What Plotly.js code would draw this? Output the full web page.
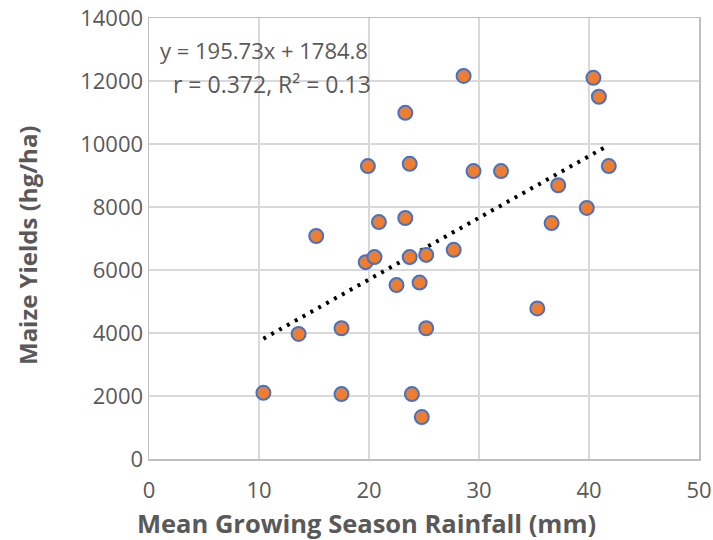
<!DOCTYPE html>
<html>
<head>
<meta charset="utf-8">
<script src="https://cdn.plot.ly/plotly-3.0.1.min.js"></script>
<style>html,body{margin:0;padding:0;background:#fff;}#chart{width:713px;height:540px;}</style>
</head>
<body>
<div id="chart"></div>
<script>
// Mean growing season rainfall (mm)
const rainfall = [10.4, 13.6, 15.2, 17.5, 17.5, 19.7, 19.9, 20.5, 20.9, 22.5,
                  23.3, 23.3, 23.7, 23.7, 25.2, 27.7, 24.6, 25.2, 23.9, 24.8,
                  28.6, 40.4, 40.9, 29.5, 32.0, 41.8, 37.2, 39.8, 36.6, 35.3];
// Maize yields (hg/ha)
const yields =   [2100, 3970, 7080, 4150, 2060, 6250, 9300, 6410, 7520, 5520,
                  10990, 7650, 9370, 6410, 6480, 6640, 5600, 4150, 2060, 1330,
                  12160, 12100, 11500, 9140, 9140, 9300, 8690, 7970, 7490, 4780];
// Linear trendline reported on the chart
const slope = 195.73;
const intercept = 1784.8;
const rValue = 0.372;
const r2Value = 0.13;
const xTicks = [0, 10, 20, 30, 40, 50];
const yTicks = [0, 2000, 4000, 6000, 8000, 10000, 12000, 14000];

const xMin = Math.min(...rainfall), xMax = Math.max(...rainfall);
const trendX = [xMin, xMax];
const trendY = trendX.map(v => slope * v + intercept);

const FONT = '"Open Sans", Lato, sans-serif';
const GREY = '#595959';

const traces = [
  {
    x: trendX, y: trendY, type: 'scatter', mode: 'lines',
    line: {color: '#000000', width: 4, dash: '3px,6px'},
    hoverinfo: 'skip', showlegend: false
  },
  {
    x: rainfall, y: yields, type: 'scatter', mode: 'markers',
    marker: {size: 14, color: '#ED7D31', line: {color: '#4472C4', width: 2}},
    showlegend: false
  }
];

// pixel helpers for placing text relative to the plot area
const PL = 149, PR = 699, PT = 18, PB = 459;
const px = v => (v - PL) / (PR - PL);
const py = v => (PB - v) / (PB - PT);

const layout = {
  width: 713, height: 540,
  margin: {l: 149, r: 14, t: 18, b: 81},
  paper_bgcolor: '#ffffff', plot_bgcolor: '#ffffff',
  font: {family: FONT, color: GREY, size: 22},
  showlegend: false,
  xaxis: {
    range: [0, 50], tickvals: xTicks, ticktext: xTicks.map(String),
    showgrid: true, gridcolor: '#D9D9D9', gridwidth: 1.5,
    showline: true, linecolor: '#BFBFBF', linewidth: 1.5, mirror: true,
    zeroline: false, ticks: 'outside', ticklen: 11, tickcolor: 'rgba(0,0,0,0)',
    tickfont: {family: FONT, size: 22, color: GREY}
  },
  yaxis: {
    range: [0, 14000], tickvals: yTicks, ticktext: yTicks.map(String),
    showgrid: true, gridcolor: '#D9D9D9', gridwidth: 1.5,
    showline: true, linecolor: '#BFBFBF', linewidth: 1.5, mirror: true,
    zeroline: false, ticks: '', ticklen: 0,
    tickfont: {family: FONT, size: 22, color: GREY}
  },
  annotations: [
    {xref: 'paper', yref: 'paper', x: px(264), y: py(50), xanchor: 'center', yanchor: 'middle',
     text: 'y = ' + slope + 'x + ' + intercept, showarrow: false,
     font: {family: FONT, size: 22, color: GREY}},
    {xref: 'paper', yref: 'paper', x: px(272), y: py(84), xanchor: 'center', yanchor: 'middle',
     text: 'r = ' + rValue + ', R² = ' + r2Value, showarrow: false,
     font: {family: FONT, size: 23, color: GREY}},
    {xref: 'paper', yref: 'paper', x: px(366), y: py(523), xanchor: 'center', yanchor: 'middle',
     text: '<b>Mean Growing Season Rainfall (mm)</b>', showarrow: false,
     font: {family: FONT, size: 25.5, color: GREY}},
    {xref: 'paper', yref: 'paper', x: px(27), y: py(245), xanchor: 'center', yanchor: 'middle',
     text: '<b>Maize Yields (hg/ha)</b>', showarrow: false, textangle: -90,
     font: {family: FONT, size: 24, color: GREY}}
  ]
};

Plotly.newPlot('chart', traces, layout, {displayModeBar: false, staticPlot: true});
</script>
</body>
</html>
